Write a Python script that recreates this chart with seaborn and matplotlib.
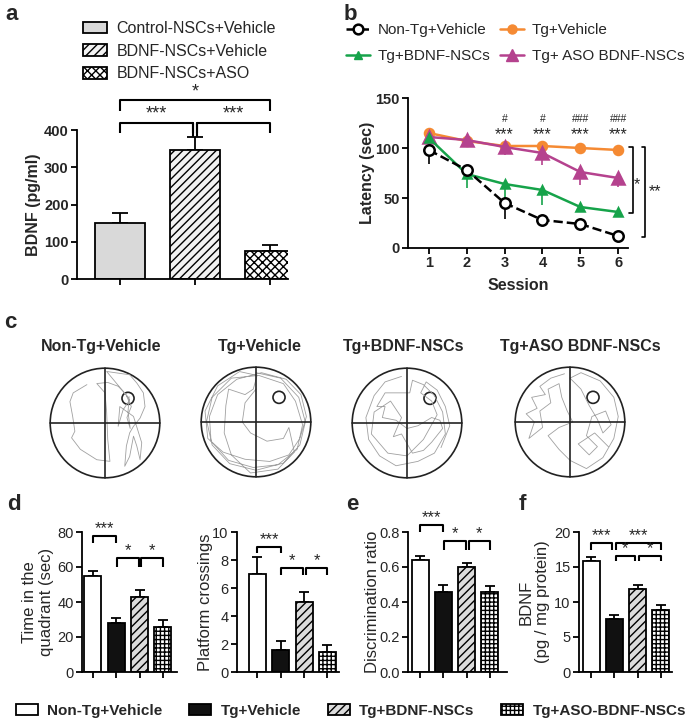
import matplotlib
matplotlib.use("Agg")
import matplotlib.pyplot as plt
from matplotlib.patches import Circle, Patch
from matplotlib.lines import Line2D
import seaborn as sns
import numpy as np

sns.set_style("ticks")
plt.rcParams['font.family'] = ['Liberation Sans', 'DejaVu Sans']
plt.rcParams['hatch.linewidth'] = 1.0

# ---- panel a : BDNF secretion in vitro
a_groups = ["Control-NSCs+Vehicle", "BDNF-NSCs+Vehicle", "BDNF-NSCs+ASO"]
a_mean = [150, 347, 76]
a_sem = [28, 33, 15]

# ---- panel b : Morris water maze latency
sessions = [1, 2, 3, 4, 5, 6]
b_labels = ["Non-Tg+Vehicle", "Tg+Vehicle", "Tg+BDNF-NSCs", "Tg+ ASO BDNF-NSCs"]
b_nontg = [98, 78, 45, 28, 24, 12]
b_nontg_err = [14, 3, 16, 5, 2, 2]
b_tg = [115, 107, 102, 102, 100, 98]
b_tg_err = [2, 2, 3, 3, 3, 5]
b_bdnf = [110, 74, 64, 58, 41, 36]
b_bdnf_err = [3, 14, 18, 15, 3, 5]
b_aso = [111, 108, 101, 95, 76, 70]
b_aso_err = [3, 4, 8, 12, 13, 9]
b_hash = ["#", "#", "###", "###"]          # sessions 3-6
b_stars = ["***", "***", "***", "***"]

# ---- panel c : swim paths (unit pool radius)
c_titles = ["Non-Tg+Vehicle", "Tg+Vehicle", "Tg+BDNF-NSCs", "Tg+ASO BDNF-NSCs"]
c_platform = (0.42, 0.45)
path_nontg = [(-0.33, 0.70), (-0.58, 0.55), (-0.64, 0.39), (-0.59, 0.12), (-0.55, -0.15),
              (-0.61, -0.27), (-0.45, -0.48), (-0.15, -0.67), (0.09, -0.70), (0.05, -0.3),
              (0.03, 0.2), (0.0, 0.55), (-0.15, 0.72), (0.05, 0.74), (0.24, 0.67),
              (0.33, 0.58), (0.42, 0.47), (0.03, 0.94), (0.45, 0.88), (0.58, 0.73),
              (0.70, 0.55), (0.73, 0.30), (0.64, 0.09), (0.52, -0.06), (0.45, -0.18),
              (0.39, -0.42), (0.36, -0.79), (0.45, -0.61), (0.52, -0.24), (0.58, -0.42),
              (0.64, -0.67), (0.67, -0.36), (0.52, 0.12), (0.27, 0.30), (0.24, -0.06),
              (0.33, 0.24), (0.45, 0.42), (0.39, 0.50), (0.48, 0.30), (0.40, 0.10),
              (0.46, -0.1), (0.42, 0.2), (0.44, 0.48)]
path_tg = [(0.0, 0.9), (0.45, 0.8), (0.78, 0.45), (0.9, 0.0), (0.8, -0.42), (0.5, -0.75),
           (0.0, -0.88), (-0.48, -0.76), (-0.8, -0.42), (-0.9, 0.02), (-0.8, 0.45),
           (-0.45, 0.8), (0.05, 0.85), (0.5, 0.7), (0.72, 0.38), (0.85, -0.05),
           (0.75, -0.5), (0.4, -0.78), (-0.05, -0.83), (-0.5, -0.7), (-0.82, -0.35),
           (-0.85, 0.1), (-0.7, 0.5), (-0.35, 0.78), (0.1, 0.9), (0.55, 0.78), (0.82, 0.5),
           (0.92, 0.1), (0.8, -0.3), (0.6, -0.6), (0.25, -0.72), (-0.2, -0.68), (-0.6, -0.55),
           (-0.88, -0.3), (-0.93, 0.2), (-0.7, 0.66), (-0.3, 0.92), (0.02, 0.85),
           (-0.05, 0.6), (-0.2, 0.5), (-0.5, 0.6), (-0.55, 0.3), (-0.58, -0.2), (-0.45, -0.6),
           (-0.1, -0.93), (0.4, -0.86), (0.7, -0.55), (0.6, -0.1), (0.5, -0.3), (0.2, -0.35),
           (-0.1, -0.2), (-0.25, 0.0), (-0.2, 0.35), (0.0, 0.6)]
path_bdnf = [(-0.1, 0.85), (-0.4, 0.75), (-0.6, 0.5), (-0.75, 0.1), (-0.7, -0.3), (-0.5, -0.6),
             (-0.2, -0.78), (0.2, -0.7), (0.5, -0.55), (0.7, -0.2), (0.65, 0.2), (0.5, 0.5),
             (0.3, 0.7), (0.1, 0.78), (0.05, 0.55), (-0.1, 0.55), (-0.4, 0.55), (-0.55, 0.3),
             (-0.4, 0.3), (-0.45, 0.1), (-0.2, 0.05), (0.0, -0.1), (0.2, -0.05), (0.45, 0.1),
             (0.6, 0.05), (0.65, -0.1), (0.45, -0.35), (0.3, -0.5), (0.1, -0.55), (-0.1, -0.2),
             (-0.25, -0.25), (-0.1, 0.1), (-0.3, 0.4), (-0.6, 0.2), (-0.65, -0.2), (-0.35, -0.55),
             (0.0, -0.6), (0.3, -0.3), (0.55, 0.15), (0.45, 0.4), (0.25, 0.55), (0.35, 0.75),
             (0.55, 0.6), (0.7, 0.3), (0.78, -0.05), (0.62, -0.45)]
path_aso = [(-0.1, 0.88), (-0.35, 0.8), (-0.55, 0.65), (-0.45, 0.5), (-0.7, 0.45), (-0.6, 0.25),
            (-0.8, 0.15), (-0.65, 0.0), (-0.75, -0.3), (-0.5, -0.1), (-0.55, 0.2), (-0.35, 0.35),
            (-0.4, 0.6), (-0.2, 0.7), (-0.15, 0.45), (-0.05, 0.2), (0.05, 0.0), (-0.2, -0.1),
            (-0.4, -0.25), (-0.2, -0.5), (0.0, -0.7), (0.3, -0.85), (0.6, -0.65), (0.8, -0.3),
            (0.88, 0.1), (0.8, 0.45), (0.55, 0.75), (0.2, 0.9), (0.0, 0.8), (0.2, 0.6),
            (0.35, 0.3), (0.5, 0.05), (0.6, -0.2), (0.75, -0.05), (0.65, 0.2), (0.4, 0.1),
            (0.3, -0.25), (0.5, -0.45), (0.35, -0.6), (0.15, -0.4), (0.45, -0.2), (0.7, -0.45)]
c_paths = [path_nontg, path_tg, path_bdnf, path_aso]

# ---- panels d-f : probe trial, NOR, BDNF in tissue
groups = ["Non-Tg+Vehicle", "Tg+Vehicle", "Tg+BDNF-NSCs", "Tg+ASO-BDNF-NSCs"]
d_time = [55, 28, 43, 26]
d_time_err = [3, 3, 4, 4]
d_cross = [7.0, 1.6, 5.0, 1.4]
d_cross_err = [1.2, 0.6, 0.7, 0.5]
e_ratio = [0.64, 0.46, 0.60, 0.46]
e_ratio_err = [0.025, 0.035, 0.025, 0.03]
f_bdnf = [15.9, 7.6, 11.8, 8.9]
f_bdnf_err = [0.5, 0.6, 0.6, 0.7]

W, H = 700, 725
fig = plt.figure(figsize=(W / 100, H / 100), dpi=100)


def px(l, t, r, b):
    return [l / W, 1 - b / H, (r - l) / W, (b - t) / H]


def style_axes(ax, lw=1.3):
    sns.despine(ax=ax)
    for s in ["left", "bottom"]:
        ax.spines[s].set_linewidth(lw)
        ax.spines[s].set_color("black")
    ax.tick_params(width=lw, length=4, color="black", pad=2)


def bars(ax, means, errs, colors, hatches, width, capsize):
    names = [str(i) for i in range(len(means))]
    sns.barplot(x=names, y=means, hue=names, palette=colors, legend=False, ax=ax,
                width=width, edgecolor="black", linewidth=1.3, saturation=1, zorder=2)
    for p, h in zip(ax.patches, hatches):
        p.set_hatch(h)
    ax.errorbar(range(len(means)), means, yerr=[np.zeros(len(errs)), errs], fmt="none",
                ecolor="black", elinewidth=1.3, capsize=capsize, capthick=1.3, zorder=1)
    ax.set_xticks(range(len(means)))
    ax.set_xticklabels([])
    ax.set_xlabel("")


def bracket(ax, x1, x2, y, leg, txt, fs=12, lw=1.5, weight="normal"):
    ax.plot([x1, x1, x2, x2], [y - leg, y, y, y - leg], color="black", lw=lw,
            clip_on=False, solid_capstyle="butt")
    ax.text((x1 + x2) / 2, y, txt, ha="center", va="bottom", fontsize=fs,
            fontweight=weight, clip_on=False)


# ================= panel a
ax = fig.add_axes(px(77, 130, 288, 279))
a_colors = ["#d9d9d9", "#f2f2f2", "white"]
a_hatch = ["", "////", "xxxx"]
bars(ax, a_mean, a_sem, a_colors, a_hatch, 0.667, 6)
ax.set_xlim(-0.573, 2.24)
ax.set_ylim(0, 400)
ax.set_yticks([0, 100, 200, 300, 400])
style_axes(ax)
for t in ax.get_yticklabels():
    t.set_fontweight("bold")
    t.set_fontsize(10.5)
ax.set_ylabel("BDNF (pg/ml)", fontsize=11.5, fontweight="bold")
ax.yaxis.set_label_coords(-0.17, 0.5)
bracket(ax, 0, 2, 480, 29, "*", fs=13)
bracket(ax, 0, 0.97, 419, 27, "***", fs=13)
bracket(ax, 1.03, 2, 419, 27, "***", fs=13)
ax.plot([0.97, 0.97], [419, 385], color="black", lw=1.5, clip_on=False)
ax.plot([1.03, 1.03], [419, 385], color="black", lw=1.5, clip_on=False)
a_handles = [Patch(facecolor=c, edgecolor="black", hatch=h, linewidth=1.3)
             for c, h in zip(a_colors, a_hatch)]
fig.legend(a_handles, a_groups, loc="upper left", bbox_to_anchor=(83 / W, 1 - 21 / H),
           frameon=False, fontsize=11.5, handlelength=1.5, handleheight=0.75,
           handletextpad=0.6, labelspacing=0.48, borderpad=0, borderaxespad=0)

# ================= panel b
ax = fig.add_axes(px(408, 98, 628, 248))
series = [(b_tg, b_tg_err, "#f58a33", "o", "-", 6.5, "#f58a33"),
          (b_aso, b_aso_err, "#b5428e", "^", "-", 8, "#b5428e"),
          (b_bdnf, b_bdnf_err, "#16a34a", "^", "-", 6, "#16a34a"),
          (b_nontg, b_nontg_err, "black", "o", "--", 7.5, "white")]
for vals, errs, col, mk, ls, ms, mfc in series:
    ax.errorbar(sessions, vals, yerr=[errs, np.zeros(len(errs))], fmt="none",
                ecolor=col, elinewidth=1.2, capsize=0)
    sns.lineplot(x=sessions, y=vals, ax=ax, color=col, marker=mk, linestyle=ls,
                 linewidth=1.8, markersize=ms, markerfacecolor=mfc,
                 markeredgecolor=col, markeredgewidth=1.8)
ax.set_xlim(0.45, 6.26)
ax.set_ylim(0, 150)
ax.set_xticks(sessions)
ax.set_yticks([0, 50, 100, 150])
style_axes(ax)
for t in ax.get_xticklabels() + ax.get_yticklabels():
    t.set_fontweight("bold")
    t.set_fontsize(10.5)
ax.set_ylabel("Latency (sec)", fontsize=11.5, fontweight="bold")
ax.yaxis.set_label_coords(-0.15, 0.5)
ax.set_xlabel("Session", fontsize=11.5, fontweight="bold")
ax.xaxis.set_label_coords(0.5, -0.2)
for s, h, st in zip(sessions[2:], b_hash, b_stars):
    ax.text(s, 106, st, ha="center", va="bottom", fontsize=11.5)
    ax.text(s, 124, h, ha="center", va="bottom", fontsize=7.5)
ax.plot([6.28, 6.38, 6.38, 6.28], [101, 101, 35, 35], color="black", lw=1.2, clip_on=False)
ax.text(6.5, 63, "*", ha="center", va="center", fontsize=11.5)
ax.plot([6.62, 6.72, 6.72, 6.62], [101, 101, 11, 11], color="black", lw=1.2, clip_on=False)
ax.text(6.97, 56, "**", ha="center", va="center", fontsize=11.5)
b_handles = [Line2D([], [], color="black", ls="--", marker="o", mfc="white", mec="black", mew=1.8, ms=7, lw=1.8),
             Line2D([], [], color="#16a34a", marker="^", ms=6, lw=1.8),
             Line2D([], [], color="#f58a33", marker="o", ms=6.5, lw=1.8),
             Line2D([], [], color="#b5428e", marker="^", ms=8, lw=1.8)]
fig.legend(b_handles, [b_labels[0], b_labels[2], b_labels[1], b_labels[3]], ncol=2,
           loc="upper left", bbox_to_anchor=(346 / W, 1 - 23 / H), frameon=False,
           fontsize=11, handlelength=1.6, handletextpad=0.5, columnspacing=0.6,
           labelspacing=0.8, borderpad=0, borderaxespad=0)

# ================= panel c
c_centers = [(105, 423), (256, 422), (407, 423), (570, 422)]
c_title_x = [101, 260, 404, 580]
for (cx, cy), path, title, tx in zip(c_centers, c_paths, c_titles, c_title_x):
    ax = fig.add_axes(px(cx - 57, cy - 57, cx + 57, cy + 57))
    ax.set_xlim(-1.04, 1.04)
    ax.set_ylim(-1.04, 1.04)
    ax.axis("off")
    xs, ys = zip(*path)
    sns.lineplot(x=list(xs), y=list(ys), ax=ax, sort=False, estimator=None,
                 color="#a0a0a0", linewidth=0.6)
    ax.add_patch(Circle((0, 0), 1, fill=False, ec="#222222", lw=1.2))
    ax.plot([-1, 1], [0, 0], color="#222222", lw=1.2)
    ax.plot([0, 0], [-1, 1], color="#222222", lw=1.2)
    ax.add_patch(Circle(c_platform, 0.11, fill=False, ec="#222222", lw=1.2))
    fig.text(tx / W, 1 - 347 / H, title, ha="center", va="center", fontsize=11.5,
             fontweight="bold")

# ================= panels d-f
g_colors = ["white", "#111111", "#dcdcdc", "white"]
g_hatch = ["", "", "////", "++++"]


def small_panel(box, xlim, ylim, yticks, means, errs, ylabel, lab_x, fmt=None):
    ax = fig.add_axes(px(*box))
    bars(ax, means, errs, g_colors, g_hatch, 0.73, 3.6)
    ax.set_xlim(*xlim)
    ax.set_ylim(*ylim)
    ax.set_yticks(yticks)
    if fmt:
        ax.set_yticklabels([fmt.format(v) for v in yticks])
    style_axes(ax)
    ax.tick_params(labelsize=10.5)
    ax.set_ylabel(ylabel, fontsize=12, linespacing=1.1)
    ax.yaxis.set_label_coords(lab_x, 0.5)
    return ax


ax = small_panel((82, 532, 177, 672), (-0.47, 3.61), (0, 80), [0, 20, 40, 60, 80],
                 d_time, d_time_err, "Time in the\nquadrant (sec)", -0.3)
bracket(ax, 0, 1, 77.7, 4, "***")
bracket(ax, 1.03, 1.97, 65, 5, "*")
bracket(ax, 2.08, 3, 65, 5, "*")

ax = small_panel((237, 532, 339, 672), (-0.88, 3.5), (0, 10), [0, 2, 4, 6, 8, 10],
                 d_cross, d_cross_err, "Platform crossings", -0.235)
bracket(ax, 0, 1, 8.9, 0.4, "***")
bracket(ax, 1.03, 1.97, 7.4, 0.5, "*")
bracket(ax, 2.08, 3, 7.4, 0.5, "*")

ax = small_panel((408, 532, 507, 672), (-0.52, 3.73), (0, 0.8), [0, 0.2, 0.4, 0.6, 0.8],
                 e_ratio, e_ratio_err, "Discrimination ratio", -0.28, fmt="{:.1f}")
bracket(ax, 0, 1, 0.84, 0.04, "***")
bracket(ax, 1.03, 1.97, 0.75, 0.05, "*")
bracket(ax, 2.08, 3, 0.75, 0.05, "*")

ax = small_panel((579, 532, 672, 672), (-0.52, 3.48), (0, 20), [0, 5, 10, 15, 20],
                 f_bdnf, f_bdnf_err, "BDNF\n(pg / mg protein)", -0.31)
bracket(ax, 0, 0.9, 18.4, 1.0, "***")
bracket(ax, 1.05, 3, 18.4, 1.0, "***")
bracket(ax, 1.05, 1.9, 16.6, 0.8, "*")
bracket(ax, 2.05, 3, 16.6, 0.8, "*")

g_handles = [Patch(facecolor=c, edgecolor="black", hatch=h, linewidth=1.3)
             for c, h in zip(g_colors, g_hatch)]
fig.legend(g_handles, groups, ncol=4, loc="upper left", bbox_to_anchor=(16 / W, 1 - 704 / H),
           frameon=False, prop={"size": 11, "weight": "bold"}, handlelength=1.45,
           handleheight=0.75, handletextpad=0.6, columnspacing=1.75, borderpad=0,
           borderaxespad=0)

# panel letters
for lab, x, y in [("a", 12, 14), ("b", 350, 14), ("c", 10, 322), ("d", 14, 505),
                  ("e", 352, 505), ("f", 522, 505)]:
    fig.text(x / W, 1 - y / H, lab, ha="center", va="center", fontsize=16, fontweight="bold")

fig.savefig("out.png", dpi=100)
